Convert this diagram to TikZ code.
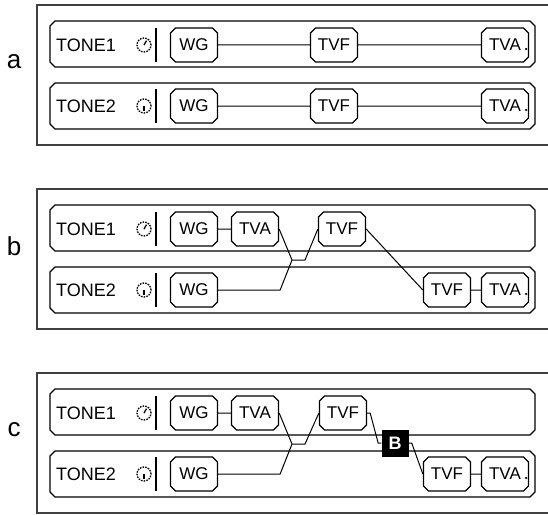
\documentclass[tikz,border=0pt]{standalone}
\usepackage{fontspec}
\setmainfont{Liberation Sans}
\usetikzlibrary{shapes.misc}

\begin{document}
\begin{tikzpicture}[
    x=1pt, y=-1pt,
    frame/.style={line width=1.8pt,black!75},
    strip/.style={draw,line width=1.3pt,chamfered rectangle,
        chamfered rectangle xsep=4pt,chamfered rectangle ysep=4pt,
        minimum width=485pt,minimum height=46pt,inner sep=2.5pt},
    unit/.style={draw,line width=1.3pt,chamfered rectangle,
        chamfered rectangle sep=2.5pt,minimum width=47pt,
        minimum height=34pt,inner sep=0pt,
        font=\fontsize{17}{17}\selectfont},
    bus/.style={fill=black,minimum size=27pt,inner sep=0pt,
        text=white,font=\fontsize{18}{18}\selectfont\bfseries},
    tone/.style={anchor=west,inner sep=0pt,font=\fontsize{18}{18}\selectfont},
    knob/.style={draw,circle,dashed,dash pattern=on 1.6pt off 1.1pt,
        line width=1.3pt,minimum size=14pt,inner sep=0pt},
    panel/.style={font=\fontsize{26}{26}\selectfont},
    wire/.style={line width=1pt},
    jack/.style={fill=black}
]
\useasboundingbox (0,0) rectangle (548,514);
\clip (0,0) rectangle (548,514);

% common parts of the three panels
\foreach \p/\o in {a/0, b/184, c/368} {
    \draw[frame] (37,5+\o) rectangle (560,145+\o);
    \node[panel] (lab-\p) at (14,62+\o) {\p};
    \node[strip] (s1-\p) at (292.5,44+\o) {};
    \node[strip] (s2-\p) at (292.5,106+\o) {};
    \node[tone] (t1-\p) at (56,45+\o) {TONE1};
    \node[tone] (t2-\p) at (56,106+\o) {TONE2};
    \node[knob] (k1-\p) at (144,45+\o) {};
    \node[knob] (k2-\p) at (144,106+\o) {};
    \draw[line width=1.3pt] (k1-\p.center) -- ++(-60:5);
    \draw[line width=1.3pt] (k2-\p.center) -- ++(90:5);
    \draw[line width=1.5pt] (156,28+\o) -- ++(0,34);
    \draw[line width=1.5pt] (156,89+\o) -- ++(0,34);
    \node[unit] (wg1-\p) at (194,45+\o) {WG};
    \node[unit] (wg2-\p) at (194,106+\o) {WG};
}

% panel a
\node[unit] (tvf1-a) at (334,45) {TVF};
\node[unit] (tva1-a) at (505,45) {TVA};
\node[unit] (tvf2-a) at (334,106) {TVF};
\node[unit] (tva2-a) at (505,106) {TVA};
\draw[wire] (wg1-a) -- (tvf1-a) -- (tva1-a);
\draw[wire] (wg2-a) -- (tvf2-a) -- (tva2-a);

% panel b
\node[unit] (tva1-b) at (255,229) {TVA};
\node[unit] (tvf1-b) at (342,229) {TVF};
\node[unit] (tvf2-b) at (447,290) {TVF};
\node[unit] (tva2-b) at (505,290) {TVA};
\coordinate (mix-b) at (292,260);
\draw[wire] (wg1-b) -- (tva1-b);
\draw[wire] (tva1-b.east) -- (mix-b);
\draw[wire] (wg2-b.east) -- ++(62,0) -- (mix-b) -- ++(13,0) -- (tvf1-b.west);
\draw[wire] (tvf1-b.east) -- (tvf2-b.west);
\draw[wire] (tvf2-b) -- (tva2-b);

% panel c
\node[unit] (tva1-c) at (255,413) {TVA};
\node[unit] (tvf1-c) at (343,413) {TVF};
\node[bus] (bus-c) at (395,443) {B};
\node[unit] (tvf2-c) at (447,474) {TVF};
\node[unit] (tva2-c) at (505,474) {TVA};
\coordinate (mix-c) at (292,444);
\draw[wire] (wg1-c) -- (tva1-c);
\draw[wire] (tva1-c.east) -- (mix-c);
\draw[wire] (wg2-c.east) -- ++(62,0) -- (mix-c) -- ++(13,0) -- (tvf1-c.west);
\draw[wire] (tvf1-c.east) -- ++(3,0) -- ++(8,30) -- (bus-c.west);
\draw[wire] (bus-c.east) -- ++(3,0) -- (tvf2-c.west);
\draw[wire] (tvf2-c) -- (tva2-c);

% output jacks
\foreach \n in {tva1-a, tva2-a, tva2-b, tva2-c} {
    \fill[jack] (\n.east) ++(-3,4) circle (1.2);
}

\end{tikzpicture}
\end{document}
